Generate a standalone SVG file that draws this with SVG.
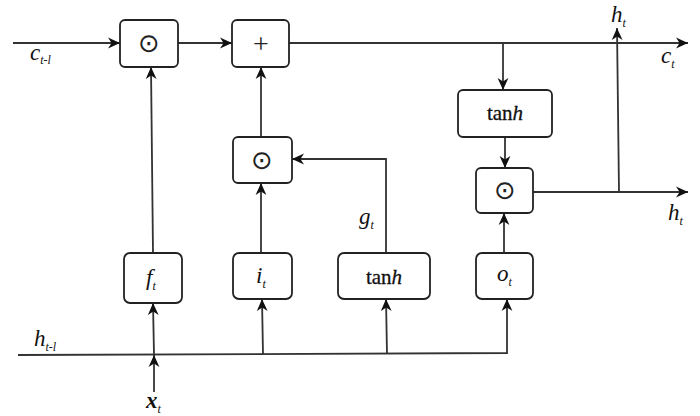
<svg xmlns="http://www.w3.org/2000/svg" width="700" height="416" viewBox="0 0 700 416">
<style>
.box{fill:#fff;stroke:#222;stroke-width:1.8}
.ln{fill:none;stroke:#333;stroke-width:1.8}
.op{font-family:'Liberation Serif','DejaVu Sans',serif;font-size:26px;fill:#222;text-anchor:middle}
.th{font-family:'Liberation Serif',serif;font-size:21px;fill:#111;text-anchor:middle;stroke:#111;stroke-width:0.3}
.lbl{font-family:'Liberation Serif',serif;font-style:italic;font-size:23px;fill:#111}
.sub{font-size:12px}
</style>
<defs>
<marker id="ah" viewBox="0 0 10 10" refX="10" refY="5" markerWidth="12" markerHeight="12" markerUnits="userSpaceOnUse" orient="auto">
<path d="M0,0.5 L10,5 L0,9.5 L3,5 z" fill="#111"/>
</marker>
</defs>
<g id="connectors" class="ln" marker-end="url(#ah)">
<line x1="13" y1="43" x2="120" y2="43"/>
<line x1="178" y1="43" x2="232" y2="43"/>
<line x1="289" y1="43" x2="688" y2="43"/>
<line x1="503" y1="43" x2="503" y2="90"/>
<line x1="505" y1="137" x2="505" y2="168"/>
<line x1="533" y1="192" x2="688" y2="192"/>
<line x1="619" y1="192" x2="617" y2="28"/>
<line x1="153" y1="253" x2="151" y2="67"/>
<line x1="261" y1="137" x2="261" y2="67"/>
<line x1="261" y1="253" x2="261" y2="183"/>
<polyline points="386,253 386,159 292,159"/>
<line x1="504" y1="253" x2="504" y2="213"/>
<polyline points="18,355 507,353 507,299"/>
<line x1="154" y1="355" x2="153" y2="303"/>
<line x1="263" y1="354" x2="262" y2="299"/>
<line x1="387" y1="354" x2="386" y2="299"/>
<line x1="154" y1="392" x2="154" y2="355"/>
</g>
<g id="forget-mul"><rect class="box" x="120" y="20" width="58" height="47" rx="5"/><text class="op" x="149" y="52">⊙</text></g>
<g id="add"><rect class="box" x="232" y="20" width="57" height="47" rx="5"/><text class="op" x="261" y="53" style="font-size:28px">+</text></g>
<g id="input-mul"><rect class="box" x="233" y="137" width="59" height="46" rx="5"/><text class="op" x="262" y="169">⊙</text></g>
<g id="output-mul"><rect class="box" x="476" y="168" width="57" height="45" rx="5"/><text class="op" x="505" y="199">⊙</text></g>
<g id="tanh-top"><rect class="box" x="458" y="90" width="94" height="47" rx="5"/><text class="th" x="505" y="120">tan<tspan font-style="italic">h</tspan></text></g>
<g id="tanh-bottom"><rect class="box" x="338" y="253" width="92" height="46" rx="6"/><text class="th" x="384" y="284">tan<tspan font-style="italic">h</tspan></text></g>
<g id="f-gate"><rect class="box" x="124" y="253" width="58" height="50" rx="6"/><text class="lbl" x="146" y="285">f<tspan class="sub" dy="5">t</tspan></text></g>
<g id="i-gate"><rect class="box" x="233" y="253" width="59" height="46" rx="6"/><text class="lbl" x="256" y="283">i<tspan class="sub" dy="5">t</tspan></text></g>
<g id="o-gate"><rect class="box" x="476" y="253" width="57" height="46" rx="6"/><text class="lbl" x="497" y="281">o<tspan class="sub" dy="5">t</tspan></text></g>
<g id="labels">
<text class="lbl" x="30" y="60">c<tspan class="sub" dy="4">t-l</tspan></text>
<text class="lbl" x="661" y="63">c<tspan class="sub" dy="5">t</tspan></text>
<text class="lbl" x="611" y="22">h<tspan class="sub" dy="5">t</tspan></text>
<text class="lbl" x="668" y="220">h<tspan class="sub" dy="5">t</tspan></text>
<text class="lbl" x="359" y="224">g<tspan class="sub" dy="5">t</tspan></text>
<text class="lbl" x="34" y="346">h<tspan class="sub" dy="5">t-l</tspan></text>
<text class="lbl" x="146" y="408" font-weight="bold">x<tspan class="sub" dy="5" font-weight="normal">t</tspan></text>
</g>
</svg>
